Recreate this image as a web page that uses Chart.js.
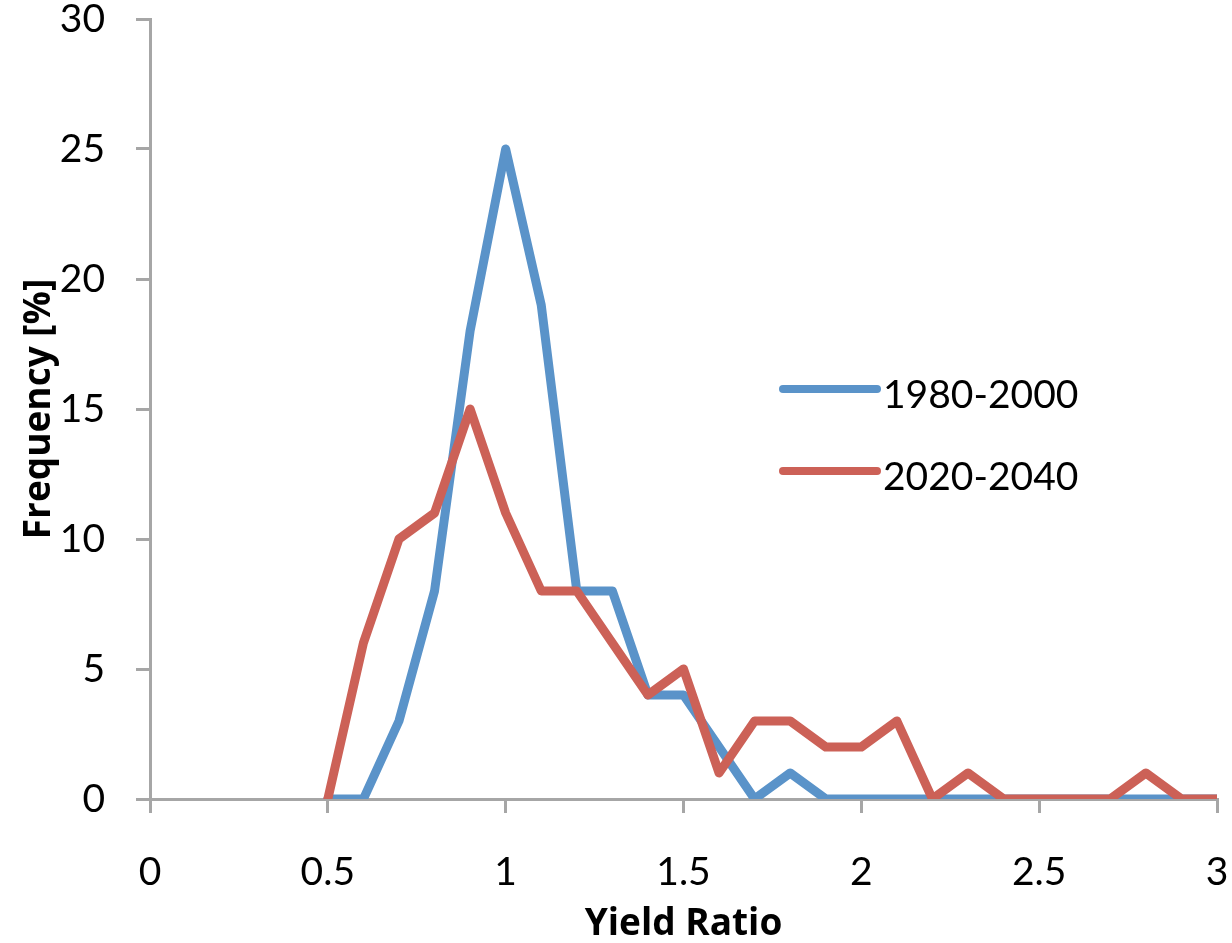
<!DOCTYPE html>
<html>
<head>
<meta charset="utf-8">
<script src="https://cdn.jsdelivr.net/npm/chart.js@4"></script>
<style>
  html, body { margin: 0; padding: 0; background: #fff; }
  #wrap { width: 1232px; height: 943px; position: relative; }
</style>
</head>
<body>
<div id="wrap"><canvas id="yieldChart"></canvas></div>
<script>
const yieldRatio = [0.5, 0.6, 0.7, 0.8, 0.9, 1.0, 1.1, 1.2, 1.3, 1.4, 1.5, 1.6, 1.7, 1.8, 1.9, 2.0, 2.1, 2.2, 2.3, 2.4, 2.5, 2.6, 2.7, 2.8, 2.9, 3.0];
const freq1980 = [0, 0, 3, 8, 18, 25, 19, 8, 8, 4, 4, 2, 0, 1, 0, 0, 0, 0, 0, 0, 0, 0, 0, 0, 0, 0];
const freq2020 = [0, 6, 10, 11, 15, 11, 8, 8, 6, 4, 5, 1, 3, 3, 2, 2, 3, 0, 1, 0, 0, 0, 0, 1, 0, 0];
const seriesNames = ['1980-2000', '2020-2040'];
const seriesColors = ['#5a93c9', '#cc6157'];

const axisColor = '#a6a6a6';
const tickFont = { family: 'Lato', size: 39, lineHeight: 1 };
const titleFont = { family: 'Open Sans', size: 37, weight: 'bold', lineHeight: 1 };

const toPoints = vals => vals.map((v, i) => ({ x: yieldRatio[i], y: v }));
const plainNum = v => String(+v.toFixed(1));

// legend sits inside the plot, drawn by hand
const innerLegend = {
    id: 'innerLegend',
    afterDraw(chart) {
        const ctx = chart.ctx;
        const a = chart.chartArea;
        const x0 = a.left + 633, lineLen = 94;
        const rows = [a.top + 370, a.top + 452];
        ctx.save();
        chart.data.datasets.forEach((ds, i) => {
            const y = rows[i];
            ctx.strokeStyle = ds.borderColor; ctx.lineWidth = 8; ctx.lineCap = 'round';
            ctx.beginPath(); ctx.moveTo(x0, y); ctx.lineTo(x0 + lineLen, y); ctx.stroke();
            ctx.fillStyle = '#000'; ctx.font = '39px Lato';
            ctx.textAlign = 'left'; ctx.textBaseline = 'middle';
            ctx.fillText(ds.label, x0 + lineLen + 6, y + 6);
        });
        ctx.restore();
    }
};

const ctx = document.getElementById('yieldChart').getContext('2d');
const chart = new Chart(ctx, {
    type: 'line',
    data: {
        datasets: [
            { label: seriesNames[0], data: toPoints(freq1980), borderColor: seriesColors[0], order: 1 },
            { label: seriesNames[1], data: toPoints(freq2020), borderColor: seriesColors[1], order: 0 }
        ]
    },
    options: {
        responsive: true, maintainAspectRatio: false, animation: false,
        layout: { padding: { top: 19, right: 15, left: 0, bottom: 0 } },
        elements: {
            line: { borderWidth: 9, tension: 0, borderJoinStyle: 'round', borderCapStyle: 'round', fill: false },
            point: { radius: 0, hoverRadius: 0 }
        },
        plugins: { legend: { display: false }, tooltip: { enabled: false } },
        scales: {
            x: {
                type: 'linear', min: 0, max: 3,
                ticks: { stepSize: 0.5, color: '#000', font: tickFont, padding: 40, maxRotation: 0, callback: plainNum },
                grid: { drawOnChartArea: false, drawTicks: true, tickLength: 14, color: axisColor, lineWidth: 3 },
                border: { display: true, color: axisColor, width: 3 },
                title: { display: true, text: 'Yield Ratio', color: '#000', font: titleFont, padding: { top: 0, bottom: 0 } },
                afterFit: s => { s.height = 144; s.paddingLeft = 0; s.paddingRight = 0; }
            },
            y: {
                min: 0, max: 30,
                ticks: { stepSize: 5, color: '#000', font: tickFont, padding: 31, callback: plainNum },
                grid: { drawOnChartArea: false, drawTicks: true, tickLength: 14, color: axisColor, lineWidth: 3 },
                border: { display: true, color: axisColor, width: 3 },
                title: { display: true, text: 'Frequency [%]', color: '#000', font: titleFont, padding: { top: 21, bottom: 0 } },
                afterFit: s => { s.width = 150; s.paddingTop = 0; s.paddingBottom = 0; }
            }
        }
    },
    plugins: [innerLegend]
});
</script>
</body>
</html>
